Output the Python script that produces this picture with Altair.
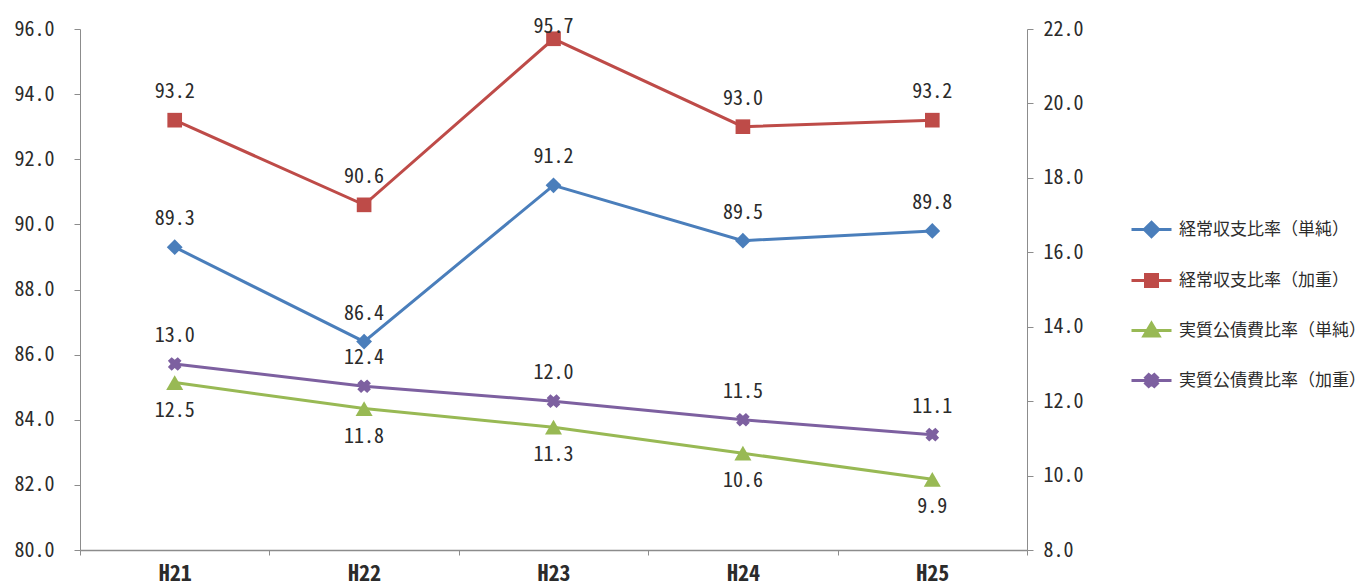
import altair as alt
import pandas as pd

# Fiscal years on the category axis
periods = ["H21", "H22", "H23", "H24", "H25"]

series_names = [
    "経常収支比率（単純）",
    "経常収支比率（加重）",
    "実質公債費比率（単純）",
    "実質公債費比率（加重）",
]

# Ratios (%) per year
ordinary_simple = [89.3, 86.4, 91.2, 89.5, 89.8]
ordinary_weighted = [93.2, 90.6, 95.7, 93.0, 93.2]
debt_simple = [12.5, 11.8, 11.3, 10.6, 9.9]
debt_weighted = [13.0, 12.4, 12.0, 11.5, 11.1]

# Axis ranges
left_ticks = [80, 82, 84, 86, 88, 90, 92, 94, 96]
right_ticks = [8, 10, 12, 14, 16, 18, 20, 22]

colors = ["#4A7EBB", "#BE4B48", "#98B954", "#7D60A0"]

FONT = "Noto Sans Mono CJK JP, Noto Sans CJK JP, sans-serif"
AXIS_COLOR = "#8c8c8c"
TEXT_COLOR = "#2b2b2b"
PLOT_W, PLOT_H = 947, 521
LABEL_GAP = 28

# Marker shapes (SVG paths in unit space)
x_marker = ("M-1,-0.45L-0.45,-1L0,-0.6L0.45,-1L1,-0.45L0.6,0L1,0.45L0.45,1"
            "L0,0.6L-0.45,1L-1,0.45L-0.6,0Z")
legend_paths = [
    "M-1,0H1M0,-0.36L0.36,0L0,0.36L-0.36,0Z",
    "M-1,0H1M-0.3,-0.3H0.3V0.3H-0.3Z",
    "M-1,0H1M0,-0.36L0.38,0.28H-0.38Z",
    "M-1,0H1M-0.3,-0.14L-0.14,-0.3L0,-0.18L0.14,-0.3L0.3,-0.14L0.18,0"
    "L0.3,0.14L0.14,0.3L0,0.18L-0.14,0.3L-0.3,0.14L-0.18,0Z",
]

series_specs = [
    # name, values, axis side, label placement, marker shape, marker size
    (series_names[0], ordinary_simple, "left", "above", "diamond", 250),
    (series_names[1], ordinary_weighted, "left", "above", "square", 215),
    (series_names[2], debt_simple, "right", "below", "triangle-up", 290),
    (series_names[3], debt_weighted, "right", "above", x_marker, 185),
]

rows = []
for name, vals, side, place, _, _ in series_specs:
    lo, hi = (80, 96) if side == "left" else (8, 22)
    for p, v in zip(periods, vals):
        if place == "above":
            # keep labels from running past the top of the plot area
            px = (hi - v) / (hi - lo) * PLOT_H
            dy = round(max(-LABEL_GAP, -2 - px))
        else:
            dy = LABEL_GAP
        rows.append({"period": p, "series": name, "value": v, "dy": dy})
df = pd.DataFrame(rows)

x_enc = alt.X(
    "period:N",
    sort=periods,
    scale=alt.Scale(type="band", paddingInner=0, paddingOuter=0),
    axis=alt.Axis(
        title=None, tickBand="extent", labelAngle=0, labelFont=FONT,
        labelFontSize=22, labelFontWeight="bold", labelColor=TEXT_COLOR,
        tickSize=5, labelPadding=8, domainColor=AXIS_COLOR, tickColor=AXIS_COLOR,
        domainWidth=1.5,
    ),
)

y_left = alt.Y(
    "value:Q",
    scale=alt.Scale(domain=[80, 96], nice=False, zero=False),
    axis=alt.Axis(
        orient="left", title=None, grid=False, values=left_ticks, format=".1f",
        labelFont=FONT, labelFontSize=20, labelColor=TEXT_COLOR, tickSize=6,
        labelPadding=20, domainColor=AXIS_COLOR, tickColor=AXIS_COLOR,
    ),
)

y_right = alt.Y(
    "value:Q",
    scale=alt.Scale(domain=[8, 22], nice=False, zero=False),
    axis=alt.Axis(
        orient="right", title=None, grid=False, values=right_ticks, format=".1f",
        labelFont=FONT, labelFontSize=20, labelColor=TEXT_COLOR, tickSize=6,
        labelPadding=10, domainColor=AXIS_COLOR, tickColor=AXIS_COLOR,
    ),
)


def series_layers(name, color, shape, size, y_enc):
    base = alt.Chart(df).transform_filter(alt.datum.series == name).encode(x=x_enc, y=y_enc)
    layers = [
        base.mark_line(color=color, strokeWidth=3),
        base.mark_point(filled=True, opacity=1, color=color, shape=shape, size=size),
    ]
    # one text layer per label offset used by this series
    for dy in sorted(df.loc[df.series == name, "dy"].unique()):
        layers.append(
            base.transform_filter(alt.datum.dy == int(dy))
            .mark_text(font=FONT, fontSize=20, color=TEXT_COLOR, baseline="middle", dy=int(dy))
            .encode(text=alt.Text("value:Q", format=".1f"))
        )
    return layers


left_layers, right_layers = [], []
for (name, _, side, _, shape, size), color in zip(series_specs, colors):
    target = left_layers if side == "left" else right_layers
    target.extend(series_layers(name, color, shape, size, y_left if side == "left" else y_right))

left = alt.layer(*left_layers)
right = alt.layer(*right_layers)

legend_kw = dict(title=None, orient="none", legendX=1050, legendY=179)
legend_layer = (
    alt.Chart(df)
    .transform_filter("false")
    .mark_point(filled=True, size=1600, strokeWidth=3, opacity=1)
    .encode(
        fill=alt.Fill("series:N", scale=alt.Scale(domain=series_names, range=colors),
                      legend=alt.Legend(**legend_kw)),
        stroke=alt.Stroke("series:N", scale=alt.Scale(domain=series_names, range=colors),
                          legend=alt.Legend(**legend_kw)),
        shape=alt.Shape("series:N", scale=alt.Scale(domain=series_names, range=legend_paths),
                        legend=alt.Legend(**legend_kw)),
    )
)

chart = (
    alt.layer(left, right, legend_layer)
    .resolve_scale(y="independent")
    .properties(
        width=PLOT_W,
        height=PLOT_H,
        autosize=alt.AutoSizeParams(type="none"),
        padding={"left": 80, "top": 29, "right": 341, "bottom": 35},
        background="white",
    )
    .configure_view(stroke=None)
    .configure_legend(
        symbolSize=1600, symbolStrokeWidth=3, rowPadding=16, labelOffset=6,
        labelFont="Noto Sans CJK JP", labelFontSize=17, labelColor=TEXT_COLOR,
        labelLimit=400, padding=0, symbolOpacity=1,
    )
)

chart.save("out.html", embed_options={"renderer": "svg", "actions": False})
